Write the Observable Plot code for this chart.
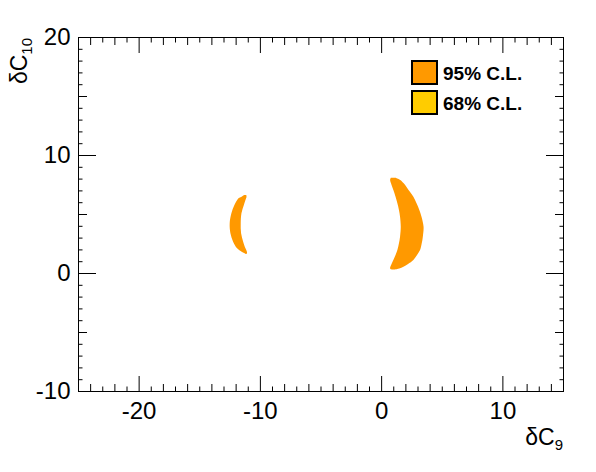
<!DOCTYPE html>
<html><head><meta charset="utf-8">
<script src="https://cdn.jsdelivr.net/npm/d3@7"></script>
<script src="https://cdn.jsdelivr.net/npm/@observablehq/plot@0.6"></script>
<style>
html,body{margin:0;padding:0;background:#fff;}
#chart{position:relative;width:596px;height:472px;}
</style></head><body>
<div id="chart"></div>
<script>
// Axis ticks
const xMajor = [-20, -10, 0, 10];
const xMedium = [-24, -22, -18, -16, -14, -12, -8, -6, -4, -2, 2, 4, 6, 8, 12, 14];
const xShort = [-23, -21, -19, -17, -15, -13, -11, -9, -7, -5, -3, -1, 1, 3, 5, 7, 9, 11, 13];
const yMajor = [-10, 0, 10, 20];
const yMedium = [-5, 5, 15];
const yShort = [-9, -8, -7, -6, -4, -3, -2, -1, 1, 2, 3, 4, 6, 7, 8, 9, 11, 12, 13, 14, 16, 17, 18, 19];

// 95% C.L. region, left crescent (rows by dC10, inner/outer dC9 edges)
const leftY     = [6.62, 6.45, 6.35, 5.76, 5.06, 4.21, 3.36, 2.65, 2.09, 1.81, 1.70, 1.62];
const leftOuter = [-11.30, -11.55, -11.74, -12.10, -12.35, -12.49, -12.43, -12.21, -11.88, -11.50, -11.30, -11.18];
const leftInner = [-11.12, -11.10, -11.13, -11.32, -11.52, -11.58, -11.55, -11.38, -11.19, -11.07, -11.06, -11.10];
// 95% C.L. region, right crescent
const rightY     = [8.08, 7.90, 7.46, 7.03, 6.47, 5.91, 5.34, 4.77, 3.92, 3.08, 2.52, 1.95, 1.53, 1.10, 0.76, 0.53, 0.38, 0.30];
const rightInner = [0.80, 0.74, 0.86, 1.01, 1.19, 1.34, 1.47, 1.56, 1.62, 1.56, 1.47, 1.34, 1.19, 1.01, 0.86, 0.76, 0.74, 0.85];
const rightOuter = [1.20, 1.55, 1.98, 2.26, 2.66, 2.92, 3.15, 3.33, 3.50, 3.44, 3.35, 3.21, 2.96, 2.66, 2.22, 1.84, 1.50, 1.15];

const legendLabels = ["95% C.L.", "68% C.L."];
const legendColors = ["#ff9900", "#ffcc00"];

const rows = (Y, A, B) => Y.map((y, i) => ({y, x1: A[i], x2: B[i]}));
const left = rows(leftY, leftOuter, leftInner);
const right = rows(rightY, rightInner, rightOuter);

const font = "'Liberation Sans', Arial, Helvetica, sans-serif";
const tickStyle = {tickFormat: () => "", label: null, strokeWidth: 1};

const plot = Plot.plot({
  width: 596, height: 472,
  marginTop: 37, marginRight: 33, marginBottom: 81, marginLeft: 78,
  style: {fontFamily: font, background: "white"},
  x: {domain: [-25, 15], label: null},
  y: {domain: [-10, 20], label: null},
  marks: [
    Plot.areaX(left, {y: "y", x1: "x1", x2: "x2", fill: legendColors[0], curve: "catmull-rom"}),
    Plot.areaX(right, {y: "y", x1: "x1", x2: "x2", fill: legendColors[0], curve: "catmull-rom"}),
    // bottom ticks
    Plot.axisX(xMajor, {anchor: "bottom", tickSize: -15, ...tickStyle}),
    Plot.axisX(xMedium, {anchor: "bottom", tickSize: -7, ...tickStyle}),
    Plot.axisX(xShort, {anchor: "bottom", tickSize: -4.5, ...tickStyle}),
    // top ticks
    Plot.axisX(xMajor, {anchor: "top", tickSize: -15, ...tickStyle}),
    Plot.axisX(xMedium, {anchor: "top", tickSize: -7, ...tickStyle}),
    Plot.axisX(xShort, {anchor: "top", tickSize: -4.5, ...tickStyle}),
    // left ticks
    Plot.axisY(yMajor, {anchor: "left", tickSize: -18, ...tickStyle}),
    Plot.axisY(yMedium, {anchor: "left", tickSize: -9, ...tickStyle}),
    Plot.axisY(yShort, {anchor: "left", tickSize: -4.5, ...tickStyle}),
    // right ticks
    Plot.axisY(yMajor, {anchor: "right", tickSize: -18, ...tickStyle}),
    Plot.axisY(yMedium, {anchor: "right", tickSize: -9, ...tickStyle}),
    Plot.axisY(yShort, {anchor: "right", tickSize: -4.5, ...tickStyle}),
    // tick labels
    Plot.axisX(xMajor, {anchor: "bottom", tickSize: 0, tickPadding: 10, fontSize: 24, fill: "black", tickFormat: d => String(d), label: null}),
    Plot.axisY(yMajor, {anchor: "left", tickSize: 0, tickPadding: 8, fontSize: 24, fill: "black", tickFormat: d => String(d), label: null}),
    Plot.frame({stroke: "black", strokeWidth: 1})
  ]
});
document.getElementById("chart").appendChild(plot);

const svg = d3.select(plot);
// x axis title
const xt = svg.append("text").attr("x", 563).attr("y", 445).attr("text-anchor", "end")
  .attr("font-family", font).attr("font-size", 23).attr("fill", "black");
xt.append("tspan").text("δC");
xt.append("tspan").attr("font-size", 15).attr("dy", 5).text("9");
// y axis title
const yt = svg.append("text").attr("transform", "translate(27,38) rotate(-90)").attr("text-anchor", "end")
  .attr("font-family", font).attr("font-size", 23).attr("fill", "black");
yt.append("tspan").text("δC");
yt.append("tspan").attr("font-size", 15).attr("dy", 5).text("10");

// legend
legendLabels.forEach((lab, i) => {
  const y0 = 61 + i * 30;
  svg.append("rect").attr("x", 412).attr("y", y0).attr("width", 25).attr("height", 23)
    .attr("fill", legendColors[i]).attr("stroke", "black").attr("stroke-width", 2);
  svg.append("text").attr("x", 443).attr("y", y0 + 19).attr("text-anchor", "start").attr("font-family", font)
    .attr("font-weight", "bold").attr("font-size", 19).attr("fill", "black").text(lab);
});
</script>
</body></html>
